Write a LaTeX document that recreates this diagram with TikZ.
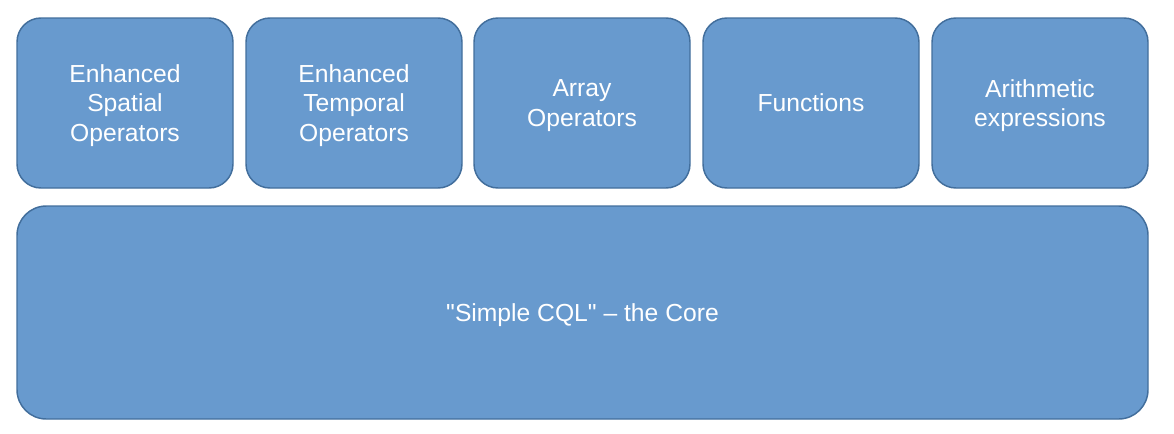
\documentclass[tikz,border=0pt]{standalone}
\usepackage{fontspec}
\setmainfont{Liberation Sans}
\definecolor{boxfill}{RGB}{104,154,206}
\definecolor{boxline}{RGB}{66,110,156}
\tikzset{every picture/.style={line width=0.75pt}}
\tikzset{
  layerbox/.style={draw=boxline, fill=boxfill, line width=1.1pt, rounded corners=18pt,
    text=white, align=center, inner sep=0pt, text depth=0pt, font=\fontsize{18.5}{22}\selectfont},
  extbox/.style={layerbox, minimum width=162pt, minimum height=127.5pt},
  corebox/.style={layerbox, rounded corners=22pt, minimum width=848.25pt, minimum height=159.75pt}
}

\begin{document}
\begin{tikzpicture}[x=0.75pt,y=0.75pt,yscale=-1,xscale=1]
\useasboundingbox (0,0) rectangle (1174,433);

%Shape: Rounded Rect [id:spatial]
\node [extbox] (spatial) at (125,103) {Enhanced\\Spatial\\Operators};
%Shape: Rounded Rect [id:temporal]
\node [extbox] (temporal) at (354,103) {Enhanced\\Temporal\\Operators};
%Shape: Rounded Rect [id:array]
\node [extbox] (array) at (582,103) {Array\\Operators};
%Shape: Rounded Rect [id:functions]
\node [extbox] (functions) at (811,103) {Functions};
%Shape: Rounded Rect [id:arith]
\node [extbox] (arith) at (1040,103) {Arithmetic\\expressions};

%Shape: Rounded Rect [id:core]
\node [corebox] (core) at (582.5,312.5) {\textquotedbl Simple CQL\textquotedbl\ – the Core};

\end{tikzpicture}
\end{document}
